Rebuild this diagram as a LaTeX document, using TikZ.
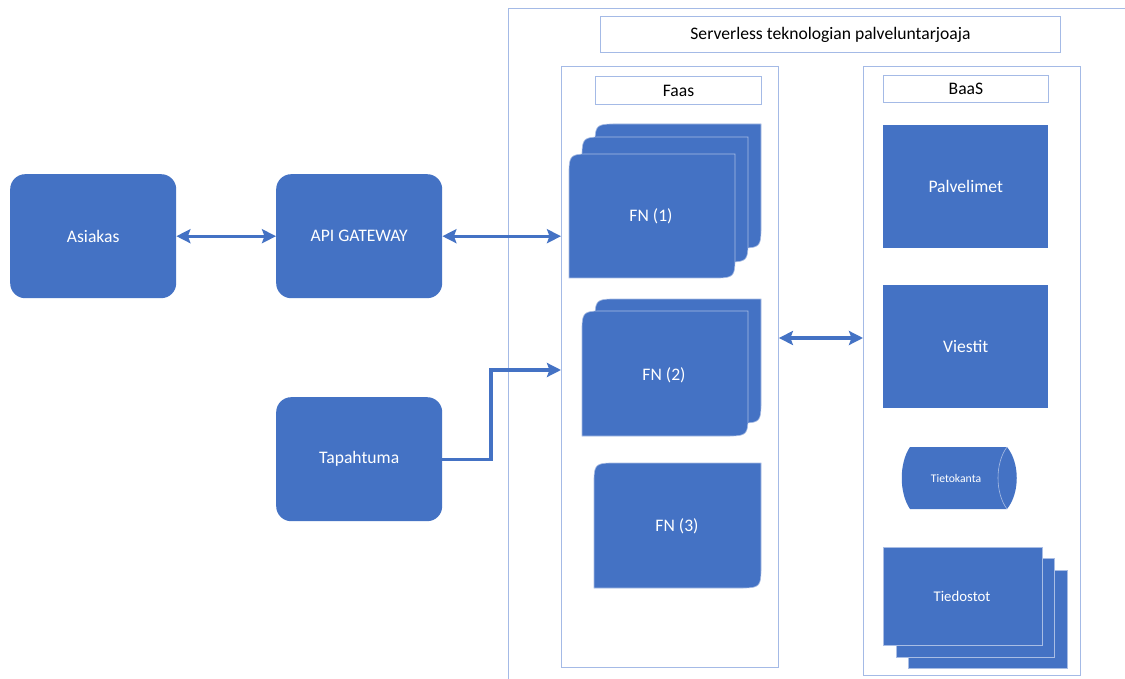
\documentclass[tikz,border=0pt]{standalone}
\usepackage{fontspec}
\setmainfont{Carlito}
\usetikzlibrary{arrows.meta,calc}
\definecolor{obl}{HTML}{4472C4}
\definecolor{cline}{HTML}{A4BAE6}
\definecolor{cardedge}{HTML}{A9BDE4}
\newcommand\rdcard[4]{\filldraw[fill=obl, draw=cardedge, line width=0.6pt] (#1,#2+18) .. controls (#1,#2+2) and (#1+2,#2) .. (#1+18,#2) -- (#3,#2) -- (#3,#4-18) .. controls (#3,#4-2) and (#3-2,#4) .. (#3-18,#4) -- (#1,#4) -- cycle;}
\newcommand\sqcard[4]{\filldraw[fill=obl, draw=cardedge, line width=0.6pt] (#1,#2) rectangle (#3,#4);}
\begin{document}
\begin{tikzpicture}[x=1pt,y=-1pt,
  font=\fontsize{17.6}{21}\selectfont,
  blbox/.style={fill=obl, text=white, rounded corners=15pt, minimum width=166pt, minimum height=124pt, anchor=north west, inner sep=0pt},
  sqbox/.style={fill=obl, text=white, minimum width=165pt, minimum height=123pt, anchor=north west, inner sep=0pt},
  container/.style={draw=cline, line width=0.9pt, anchor=north west, inner sep=0pt},
  wtext/.style={text=white, inner sep=0pt},
  arr/.style={draw=obl, line width=3.3pt, -{Stealth[length=14pt,width=14pt,inset=2.5pt]}},
  darr/.style={draw=obl, line width=3.3pt, {Stealth[length=14pt,width=14pt,inset=2.5pt]}-{Stealth[length=14pt,width=14pt,inset=2.5pt]}}
]
\useasboundingbox (0,0) rectangle (1125,679);
\clip (0,0) rectangle (1125,679);
\fill[white] (0,0) rectangle (1125,679);

% containers
\node[container, minimum width=640pt, minimum height=700pt] (prov) at (508,8) {};
\node[container, minimum width=460pt, minimum height=36pt] (title) at (600,16) {Serverless teknologian palveluntarjoaja};
\node[container, minimum width=217pt, minimum height=601pt] (faas) at (561,66) {};
\node[container, minimum width=166pt, minimum height=28pt] (faaslbl) at (595,76) {Faas};
\node[container, minimum width=217pt, minimum height=609pt] (baas) at (863,66) {};
\node[container, minimum width=165pt, minimum height=27pt] (baaslbl) at (883,75) {BaaS};

% left boxes
\node[blbox] (asi) at (10,174) {Asiakas};
\node[blbox] (api) at (276,174) {API GATEWAY};
\node[blbox] (tap) at (276,397) {Tapahtuma};

% FN cards
\rdcard{595}{124}{761}{248}
\rdcard{582}{137}{748}{262}
\rdcard{569}{154}{735}{278}
\node[wtext] (fn1) at (651,216) {FN (1)};
\rdcard{595}{299}{761}{423}
\rdcard{582}{311}{748}{436}
\node[wtext] (fn2) at (664,375) {FN (2)};
\rdcard{594}{463}{761}{588}
\node[wtext] (fn3) at (677,526) {FN (3)};

% BaaS items
\node[sqbox] (pal) at (883,125) {Palvelimet};
\node[sqbox] (vie) at (883,285) {Viestit};
\filldraw[fill=obl, draw=none] (910,447) -- (1007,447) .. controls (1020,463) and (1020,493) .. (1007,509) -- (910,509) .. controls (899,493) and (899,463) .. (910,447) -- cycle;
\draw[cardedge, line width=0.6pt] (1007,447) .. controls (995,463) and (995,493) .. (1007,509);
\node[wtext, font=\fontsize{11.7}{13}\selectfont] (db) at (956,478) {Tietokanta};
\sqcard{908}{570}{1067}{668}
\sqcard{896}{558}{1054}{657}
\sqcard{883}{547}{1042}{645}
\node[wtext, font=\fontsize{14.8}{17}\selectfont] (tied) at (962,596) {Tiedostot};

% connectors
\coordinate (bend) at (491,370);
\coordinate (mid) at (820,338);
\draw[darr] (asi.east) -- (api.west);
\draw[darr] (api.east) -- (api.east -| faas.west);
\draw[arr] (tap.east) -| (bend) -- (bend -| faas.west);
\draw[darr] (mid -| faas.east) -- (mid -| baas.west);
\end{tikzpicture}
\end{document}
